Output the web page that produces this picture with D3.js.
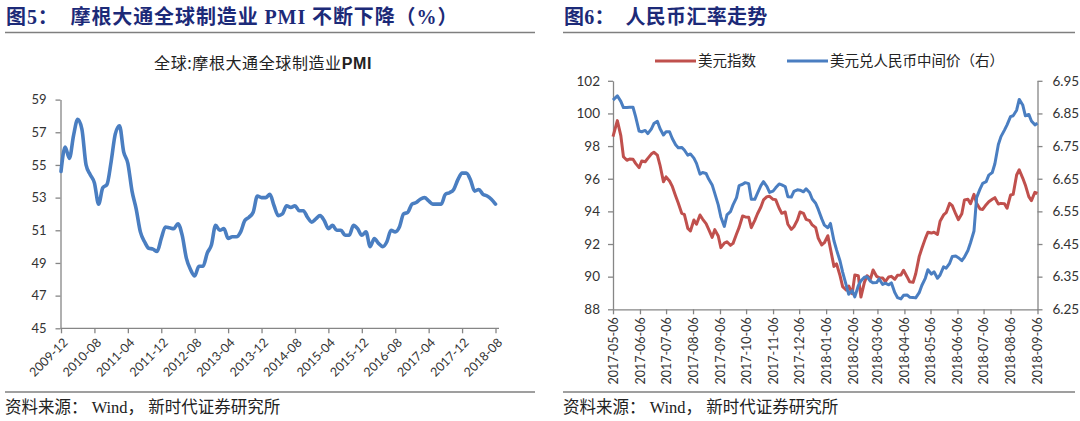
<!DOCTYPE html>
<html><head><meta charset="utf-8">
<script src="https://cdn.jsdelivr.net/npm/d3@7"></script>
<style>
body{margin:0;background:#fff;}
svg{display:block;}
</style></head><body>
<svg id="c" width="1080" height="421"></svg>
<script>
// ---------- Figure 5 data ----------
const pmiFirstMonth = "2009-12";
const pmiLastMonth = "2018-08";
const pmiTickLabels = ["2009-12","2010-08","2011-04","2011-12","2012-08","2013-04","2013-12","2014-08","2015-04","2015-12","2016-08","2017-04","2017-12","2018-08"];
const pmiYTicks = [45,47,49,51,53,55,57,59];
const pmiValues = [54.6,56.1,55.4,56.8,57.8,57.2,55.0,54.4,53.9,52.6,53.6,53.8,55.2,56.9,57.4,55.8,55.1,53.4,52.3,50.9,
50.3,49.9,49.85,49.7,50.5,51.2,51.15,51.1,51.4,50.7,49.3,48.6,48.2,48.8,48.8,49.6,50.1,51.3,51.0,51.1,
50.5,50.6,50.6,50.9,51.6,51.8,52.1,53.1,53.0,53.0,53.2,52.5,51.9,52.0,52.5,52.4,52.5,52.2,52.2,51.8,
51.5,51.7,51.9,51.6,51.1,51.3,51.0,51.0,50.7,50.7,51.3,51.1,50.7,50.9,50.0,50.5,50.2,50.0,50.3,51.0,
50.9,51.2,52.0,52.1,52.6,52.7,52.9,53.0,52.8,52.6,52.6,52.6,53.2,53.3,53.5,54.1,54.5,54.5,54.1,53.4,
53.5,53.2,53.1,52.9,52.6];

// ---------- Figure 6 data ----------
const fxDates = ["2017-05-06","2017-05-08","2017-05-11","2017-05-15","2017-05-18","2017-05-22","2017-05-25","2017-05-29","2017-06-01","2017-06-05","2017-06-08","2017-06-12","2017-06-15","2017-06-19","2017-06-22","2017-06-26","2017-06-29","2017-07-03","2017-07-06","2017-07-10","2017-07-13","2017-07-17","2017-07-20","2017-07-24","2017-07-27","2017-07-31","2017-08-03","2017-08-07","2017-08-10","2017-08-14","2017-08-17","2017-08-21","2017-08-24","2017-08-28","2017-08-31","2017-09-04","2017-09-07","2017-09-11","2017-09-14","2017-09-18","2017-09-21","2017-09-25","2017-09-28","2017-10-02","2017-10-05","2017-10-09","2017-10-12","2017-10-16","2017-10-19","2017-10-23","2017-10-26","2017-10-30","2017-11-02","2017-11-06","2017-11-09","2017-11-13","2017-11-16","2017-11-20","2017-11-23","2017-11-27","2017-11-30","2017-12-04","2017-12-07","2017-12-11","2017-12-14","2017-12-18","2017-12-21","2017-12-25","2017-12-28","2018-01-01","2018-01-04","2018-01-08","2018-01-11","2018-01-15","2018-01-18","2018-01-22","2018-01-25","2018-01-29","2018-02-01","2018-02-05","2018-02-08","2018-02-12","2018-02-15","2018-02-19","2018-02-22","2018-02-26","2018-03-01","2018-03-05","2018-03-08","2018-03-12","2018-03-15","2018-03-19","2018-03-22","2018-03-26","2018-03-29","2018-04-02","2018-04-05","2018-04-09","2018-04-12","2018-04-16","2018-04-19","2018-04-23","2018-04-26","2018-04-30","2018-05-03","2018-05-07","2018-05-10","2018-05-14","2018-05-17","2018-05-21","2018-05-24","2018-05-28","2018-05-31","2018-06-04","2018-06-07","2018-06-11","2018-06-14","2018-06-18","2018-06-21","2018-06-25","2018-06-28","2018-07-02","2018-07-05","2018-07-09","2018-07-12","2018-07-16","2018-07-19","2018-07-23","2018-07-26","2018-07-30","2018-08-02","2018-08-06","2018-08-09","2018-08-13","2018-08-16","2018-08-20","2018-08-23","2018-08-27","2018-08-30","2018-09-03","2018-09-06"];
const usdIndex = [98.58,98.98,99.56,98.64,97.35,97.13,97.21,97.19,96.94,96.68,97.09,97.04,97.25,97.51,97.62,97.45,96.84,95.82,96.11,95.86,
95.55,94.94,94.51,93.88,93.82,92.96,92.80,93.47,93.21,93.78,93.53,93.25,92.90,92.41,92.88,92.49,91.78,92.06,92.14,91.92,
92.04,92.61,93.02,93.72,93.66,93.64,93.00,93.45,93.84,94.27,94.70,94.90,94.92,94.74,94.72,94.19,93.88,93.96,93.21,92.90,
93.06,93.47,93.96,93.88,93.51,93.43,93.17,93.00,92.35,91.94,92.08,92.51,91.70,90.63,90.78,90.06,89.39,89.18,89.43,88.96,
90.10,90.06,88.75,89.65,90.06,89.86,90.41,90.02,89.94,89.92,89.69,89.98,90.02,89.84,90.08,90.10,90.39,90.00,89.69,89.65,
90.18,91.23,91.72,92.33,92.72,92.67,92.72,92.59,93.39,93.78,93.92,94.49,94.35,93.84,93.49,93.86,94.70,94.74,94.47,95.04,
94.49,94.15,94.12,94.41,94.59,94.74,94.84,94.45,94.49,94.47,94.19,95.00,95.04,96.23,96.55,96.04,95.62,94.90,94.66,95.17,95.10];
const usdCnyMid = [6.891,6.896,6.904,6.887,6.868,6.868,6.869,6.869,6.840,6.796,6.794,6.798,6.788,6.802,6.819,6.826,6.804,6.784,6.794,6.794,
6.774,6.754,6.745,6.746,6.738,6.722,6.726,6.713,6.697,6.664,6.669,6.666,6.649,6.631,6.605,6.570,6.533,6.504,6.539,6.549,
6.570,6.592,6.629,6.633,6.638,6.635,6.587,6.587,6.605,6.629,6.641,6.626,6.608,6.612,6.622,6.634,6.631,6.626,6.595,6.594,
6.611,6.616,6.615,6.610,6.619,6.608,6.588,6.575,6.556,6.527,6.508,6.500,6.513,6.460,6.432,6.398,6.364,6.325,6.296,6.307,
6.288,6.322,6.337,6.348,6.350,6.336,6.331,6.332,6.343,6.326,6.330,6.325,6.331,6.301,6.286,6.282,6.293,6.294,6.287,6.286,
6.285,6.301,6.323,6.345,6.371,6.358,6.365,6.345,6.355,6.380,6.376,6.391,6.412,6.413,6.408,6.399,6.410,6.430,6.454,6.490,
6.592,6.619,6.636,6.641,6.661,6.669,6.696,6.755,6.779,6.799,6.815,6.840,6.843,6.860,6.893,6.876,6.843,6.847,6.827,6.815,6.820];
const fxTickLabels = ["2017-05-06","2017-06-06","2017-07-06","2017-08-06","2017-09-06","2017-10-06","2017-11-06","2017-12-06","2018-01-06","2018-02-06","2018-03-06","2018-04-06","2018-05-06","2018-06-06","2018-07-06","2018-08-06","2018-09-06"];
const fxLeftTicks = [88,90,92,94,96,98,100,102];
const fxRightTicks = [6.25,6.35,6.45,6.55,6.65,6.75,6.85,6.95];
const legendNames = ["美元指数","美元兑人民币中间价（右）"];

// ---------- styles ----------
const AXIS = "#868686";
const TXT = "#333";
const BLUE = "#4a7ec1";
const RED = "#c0504d";
const NAVY = "#1c2a78";
const TITLE_FONT = "'Liberation Serif','Noto Sans CJK SC',serif";
const TICK_FONT = "Lato, 'Liberation Sans', sans-serif";

const svg = d3.select("#c");

function styleAxis(g, size){
  g.select(".domain").attr("stroke", AXIS).attr("stroke-width", 1.3);
  g.selectAll(".tick line").attr("stroke", AXIS).attr("stroke-width", 1.3);
  g.selectAll("text").attr("fill", TXT).style("font-family", TICK_FONT).style("font-size", size + "px");
}

// ---------- headers / footers ----------
function frame(x0, x1, title, spacing){
  svg.append("text").attr("x", x0 + 1).attr("y", 24).text(title)
    .attr("fill", NAVY).style("font-family", TITLE_FONT).style("font-weight", "bold")
    .style("font-size", "20px").style("letter-spacing", spacing + "px").attr("xml:space", "preserve");
  svg.append("line").attr("x1", x0).attr("x2", x1).attr("y1", 32.5).attr("y2", 32.5)
    .attr("stroke", "#7f7f7f").attr("stroke-width", 1.5);
  svg.append("line").attr("x1", x0).attr("x2", x1).attr("y1", 392).attr("y2", 392)
    .attr("stroke", "#7f7f7f").attr("stroke-width", 1.5);
  svg.append("text").attr("x", x0).attr("y", 413).text("资料来源： Wind， 新时代证券研究所")
    .attr("xml:space", "preserve")
    .attr("fill", "#222").style("font-family", TITLE_FONT).style("font-size", "16.5px");
}
frame(5, 535, "图5：  摩根大通全球制造业 PMI 不断下降（%）", 0.9);
frame(563, 1075, "图6：  人民币汇率走势", 0.3);

// ---------- Figure 5 ----------
const parseM = d3.timeParse("%Y-%m"), fmtM = d3.timeFormat("%Y-%m");
const months = d3.timeMonth.range(parseM(pmiFirstMonth), d3.timeMonth.offset(parseM(pmiLastMonth), 1)).map(fmtM);
const xL = d3.scalePoint().domain(months).range([61, 495.5]);
const yL = d3.scaleLinear().domain([45, 59]).range([328.3, 99.6]);

const sub = svg.append("text").attr("x", 263).attr("y", 69).attr("text-anchor", "middle")
  .attr("fill", "#222").style("font-family", "'Noto Sans CJK SC', sans-serif").style("font-size", "16px")
  .style("letter-spacing", "0.6px");
sub.append("tspan").text("全球:摩根大通全球制造业");
sub.append("tspan").text("PMI").style("font-weight", "bold").style("font-family", "'Liberation Sans', sans-serif");

const gyL = svg.append("g").attr("transform", "translate(60.5,0)")
  .call(d3.axisLeft(yL).tickValues(pmiYTicks).tickSize(5).tickSizeOuter(0).tickPadding(9));
styleAxis(gyL, 13);

const gxL = svg.append("g").attr("transform", `translate(0,${yL(45)})`)
  .call(d3.axisBottom(xL).tickValues(pmiTickLabels).tickSize(5).tickSizeOuter(0));
gxL.select(".domain").attr("d", `M${xL.range()[0] - 0.5},0H${xL.range()[1] + 3.5}`);
styleAxis(gxL, 12.5);
gxL.selectAll(".tick text").attr("x", 0).attr("y", 0).attr("dy", "0.35em")
  .attr("transform", "translate(4,12) rotate(-45)").style("text-anchor", "end");

svg.append("path").datum(pmiValues)
  .attr("fill", "none").attr("stroke", BLUE).attr("stroke-width", 3.6)
  .attr("stroke-linejoin", "round").attr("stroke-linecap", "round")
  .attr("d", d3.line().x((d, i) => xL(months[i])).y(d => yL(d)).curve(d3.curveMonotoneX));

// ---------- Figure 6 ----------
const parseD = d3.timeParse("%Y-%m-%d");
const xR = d3.scaleTime().domain([parseD(fxTickLabels[0]), parseD(fxTickLabels[fxTickLabels.length - 1])]).range([613, 1037.5]);
const yRL = d3.scaleLinear().domain([88, 102]).range([309.3, 80.8]);
const yRR = d3.scaleLinear().domain([6.25, 6.95]).range([309.3, 80.8]);

const gRL = svg.append("g").attr("transform", "translate(613,0)")
  .call(d3.axisLeft(yRL).tickValues(fxLeftTicks).tickSize(5).tickSizeOuter(0).tickPadding(8));
styleAxis(gRL, 13.5);
const gRR = svg.append("g").attr("transform", "translate(1037.5,0)")
  .call(d3.axisRight(yRR).tickValues(fxRightTicks).tickFormat(d3.format(".2f")).tickSize(5).tickSizeOuter(0).tickPadding(10));
styleAxis(gRR, 13.5);
const gRX = svg.append("g").attr("transform", `translate(0,${yRL(88)})`)
  .call(d3.axisBottom(xR).tickValues(fxTickLabels.map(parseD)).tickFormat(d3.timeFormat("%Y-%m-%d")).tickSize(5).tickSizeOuter(0));
styleAxis(gRX, 12.5);
gRX.selectAll(".tick text").attr("x", 0).attr("y", 0).attr("dy", "0.35em")
  .attr("transform", "translate(0,8) rotate(-90)").style("text-anchor", "end");

const fxRows = fxDates.map((d, i) => ({date: parseD(d), usd: usdIndex[i], cny: usdCnyMid[i]}));
svg.append("path").datum(fxRows).attr("fill", "none").attr("stroke", RED).attr("stroke-width", 3)
  .attr("stroke-linejoin", "round")
  .attr("d", d3.line().x(d => xR(d.date)).y(d => yRL(d.usd)));
svg.append("path").datum(fxRows).attr("fill", "none").attr("stroke", BLUE).attr("stroke-width", 3)
  .attr("stroke-linejoin", "round")
  .attr("d", d3.line().x(d => xR(d.date)).y(d => yRR(d.cny)));

// legend
const legend = [{name: legendNames[0], color: RED, x: 655}, {name: legendNames[1], color: BLUE, x: 787}];
const lg = svg.append("g").selectAll("g").data(legend).join("g").attr("transform", d => `translate(${d.x},61)`);
lg.append("line").attr("x1", 0).attr("x2", 41).attr("stroke", d => d.color).attr("stroke-width", 3);
lg.append("text").attr("x", 43).attr("dy", "0.35em").text(d => d.name)
  .attr("fill", "#222").style("font-family", TITLE_FONT).style("font-size", "14.5px");
</script>
</body></html>
